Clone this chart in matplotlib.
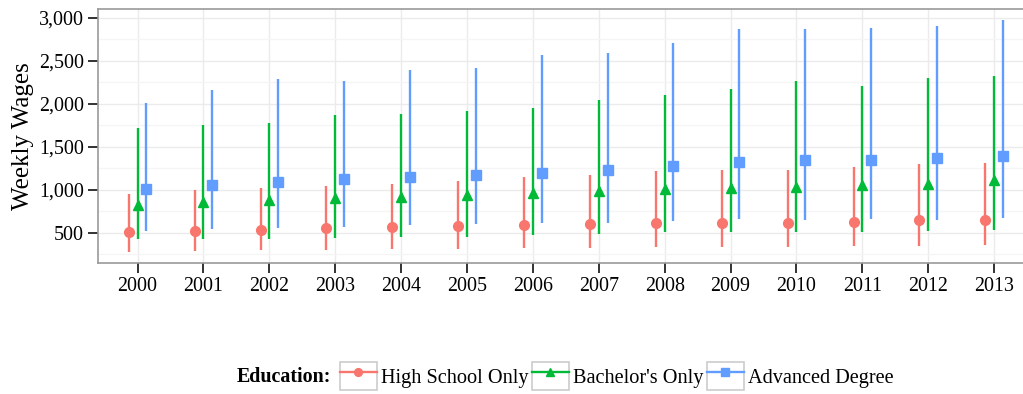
import numpy as np
import matplotlib
matplotlib.use("Agg")
import matplotlib.pyplot as plt
from matplotlib.lines import Line2D
from matplotlib.patches import Rectangle
from matplotlib.legend_handler import HandlerLine2D
from matplotlib.ticker import FuncFormatter, MultipleLocator

plt.rcParams['font.family'] = ['Liberation Serif', 'DejaVu Serif']

years = np.arange(2000, 2014)

# High School Only: median, low, high
hs_mid = [510, 523, 535, 554, 574, 578, 589, 601, 616, 620, 620, 632, 651, 651]
hs_low = [283, 294, 299, 302, 310, 314, 322, 326, 337, 341, 341, 345, 349, 360]
hs_high = [953, 1000, 1019, 1043, 1074, 1108, 1155, 1171, 1221, 1229, 1233, 1264, 1302, 1318]

# Bachelor's Only
ba_mid = [826, 857, 884, 903, 919, 938, 969, 988, 1015, 1027, 1035, 1054, 1070, 1112]
ba_low = [427, 430, 434, 442, 453, 457, 481, 492, 508, 508, 508, 516, 519, 535]
ba_high = [1721, 1759, 1775, 1872, 1884, 1919, 1953, 2043, 2105, 2171, 2267, 2206, 2299, 2322]

# Advanced Degree
ad_mid = [1015, 1058, 1089, 1124, 1151, 1171, 1198, 1233, 1283, 1322, 1349, 1345, 1368, 1392]
ad_low = [527, 547, 562, 574, 597, 605, 620, 620, 643, 663, 655, 663, 655, 678]
ad_high = [2012, 2163, 2287, 2271, 2392, 2415, 2570, 2593, 2713, 2872, 2872, 2880, 2911, 2973]

series = [
    ("High School Only", hs_mid, hs_low, hs_high, "#F8766D", "o", 7),
    ("Bachelor's Only", ba_mid, ba_low, ba_high, "#00BA38", "^", 7.5),
    ("Advanced Degree", ad_mid, ad_low, ad_high, "#619CFF", "s", 6.5),
]
dodge = [-0.133, 0.0, 0.133]

fig = plt.figure(figsize=(10.23, 3.94), dpi=100)
ax = fig.add_axes([98 / 1023, 1 - 263 / 394, 935.6 / 1023, 254 / 394])

handles = []
for (name, mid, lo, hi, col, mk, ms), dx in zip(series, dodge):
    x = years + dx
    ax.vlines(x, lo, hi, color=col, lw=1.7, zorder=3)
    ax.plot(x, mid, linestyle="none", marker=mk, ms=ms, color=col, zorder=4)
    handles.append(Line2D([], [], color=col, lw=1.7, marker=mk, ms=ms * 0.8, label=name))

ax.set_xlim(1999.4, 2013.6)
ax.set_ylim(151, 3104)
ax.set_xticks(years)
ax.set_xticklabels([str(y) for y in years])
ax.yaxis.set_major_locator(MultipleLocator(500))
ax.yaxis.set_minor_locator(MultipleLocator(250))
ax.yaxis.set_major_formatter(FuncFormatter(lambda v, p: f"{int(v):,}"))
ax.set_yticks([500, 1000, 1500, 2000, 2500, 3000])

ax.grid(True, which="major", color="#ebebeb", lw=1.0, zorder=0)
ax.grid(True, which="minor", axis="y", color="#f5f5f5", lw=1.0, zorder=0)
ax.set_axisbelow(True)
for s in ax.spines.values():
    s.set_color("#9a9a9a")
    s.set_linewidth(1.2)

ax.tick_params(axis="both", which="major", length=7, width=1.3, color="#222222",
               labelsize=14.4, labelcolor="black", pad=3)
ax.tick_params(axis="y", which="minor", length=0)
ax.set_ylabel("Weekly Wages", fontsize=18, labelpad=4)


class BoxedHandler(HandlerLine2D):
    def create_artists(self, legend, orig_handle, xdescent, ydescent, width, height, fontsize, trans):
        arts = super().create_artists(legend, orig_handle, xdescent, ydescent, width, height, fontsize, trans)
        box = Rectangle((-xdescent, -ydescent), width, height, fill=False,
                        edgecolor="#cccccc", lw=1.2, transform=trans)
        return [box] + list(arts)


fig.text(237 / 1023, 1 - 377 / 394, "Education:", fontsize=14.4, fontweight="bold",
         ha="left", va="center")
fig.legend(handles=handles, loc="center left", bbox_to_anchor=(340 / 1023, 1 - 376 / 394),
           ncol=3, frameon=False, fontsize=14.6, handlelength=1.8, handleheight=1.75,
           handletextpad=0.2, columnspacing=0.2, borderpad=0, borderaxespad=0,
           handler_map={Line2D: BoxedHandler(numpoints=1)})

fig.savefig("out.png", dpi=100)
